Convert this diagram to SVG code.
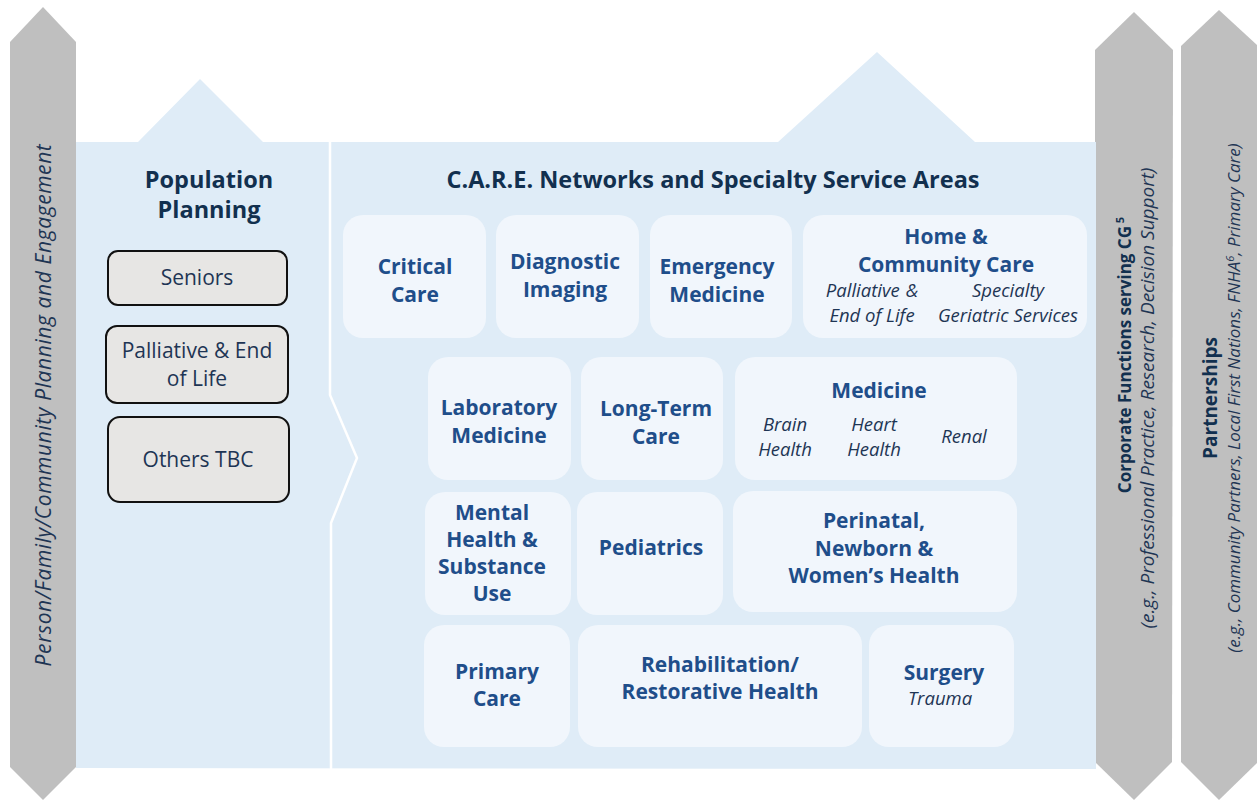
<svg xmlns="http://www.w3.org/2000/svg" width="1257" height="801" viewBox="0 0 1257 801">
  <style>
    .arrow { fill: #BFBFBF; }
    .panel { fill: #DFECF7; }
    .node { fill: #F1F6FC; }
    .pop { fill: #E7E6E4; stroke: #111111; stroke-width: 2; }
    text { font-family: "Open Sans", "Noto Sans", "DejaVu Sans", sans-serif; text-anchor: middle; }
    .title { font-size: 23.5px; font-weight: 700; fill: #12304F; }
    .name { font-size: 21px; font-weight: 700; fill: #1F4E8A; }
    .sub { font-size: 18.5px; font-style: italic; fill: #1E3554; }
    .pop-label { font-size: 21px; fill: #1E3554; }
    .side { font-size: 21px; font-style: italic; fill: #1E3554; letter-spacing: 0.6px; }
    .side-s { font-size: 19px; font-style: italic; fill: #1E3554; }
    .side-b { font-size: 17px; font-weight: 700; fill: #12304F; }
  </style>

  <!-- side arrows -->
  <g id="arrow-person">
    <polygon class="arrow" points="43,7 76,42 76,767 43,800 10,767 10,42"/>
    <text class="side" transform="translate(51,405) rotate(-90)">Person/Family/Community Planning and Engagement</text>
  </g>
  <g id="arrow-corporate">
    <polygon class="arrow" points="1134,12 1173,50 1172,762 1134,800 1095,762 1095,50"/>
    <text class="side-b" transform="translate(1131,355) rotate(-90)">Corporate Functions serving CG<tspan font-size="11" dy="-7"> 5</tspan></text>
    <text class="side-s" transform="translate(1154,398) rotate(-90)">(e.g., Professional Practice, Research, Decision Support)</text>
  </g>
  <g id="arrow-partnerships">
    <polygon class="arrow" points="1219,10 1258,46 1258,762 1219,800 1181,762 1181,46"/>
    <text class="side-b" style="font-size:19px" transform="translate(1217,398) rotate(-90)">Partnerships</text>
    <text class="side-s" style="font-size:17px" transform="translate(1240,398) rotate(-90)">(e.g., Community Partners, Local First Nations, FNHA<tspan font-size="11" dy="-6">6</tspan><tspan dy="6">, Primary Care)</tspan></text>
  </g>

  <!-- house-shaped panels -->
  <g id="panels">
    <polygon class="panel" points="76,142 138,142 200,79 263,142 778,142 877,52 975,142 1096,142 1096,769 76,768"/>
    <polyline points="330,142 330,395 357,458 331,523 331,769" fill="none" stroke="#FFFFFF" stroke-width="2.5"/>
  </g>

  <!-- population planning column -->
  <g id="population-planning">
    <text class="title" x="209" y="188">Population</text>
    <text class="title" x="209" y="218">Planning</text>
  </g>
  <g id="seniors">
    <rect class="pop" x="108" y="251" width="179" height="54" rx="10"/>
    <text class="pop-label" x="197" y="285">Seniors</text>
  </g>
  <g id="palliative">
    <rect class="pop" x="106" y="326" width="182" height="77" rx="11"/>
    <text class="pop-label" x="197" y="358">Palliative &amp; End</text>
    <text class="pop-label" x="197" y="386">of Life</text>
  </g>
  <g id="others">
    <rect class="pop" x="108" y="417" width="181" height="85" rx="12"/>
    <text class="pop-label" x="198" y="467">Others TBC</text>
  </g>

  <!-- networks and specialty service areas -->
  <g id="care-title">
    <text class="title" x="713" y="188">C.A.R.E. Networks and Specialty Service Areas</text>
  </g>

  <g id="critical-care">
    <rect class="node" x="343" y="215" width="143" height="123" rx="20"/>
    <text class="name" x="415" y="274">Critical</text>
    <text class="name" x="415" y="302">Care</text>
  </g>
  <g id="diagnostic-imaging">
    <rect class="node" x="496" y="215" width="143" height="123" rx="20"/>
    <text class="name" x="565" y="269">Diagnostic</text>
    <text class="name" x="565" y="297">Imaging</text>
  </g>
  <g id="emergency-medicine">
    <rect class="node" x="650" y="215" width="142" height="123" rx="20"/>
    <text class="name" x="717" y="274">Emergency</text>
    <text class="name" x="717" y="302">Medicine</text>
  </g>
  <g id="home-community-care">
    <rect class="node" x="803" y="215" width="284" height="123" rx="20"/>
    <text class="name" x="946" y="244">Home &amp;</text>
    <text class="name" x="946" y="272">Community Care</text>
    <text class="sub" x="872" y="297">Palliative<tspan dx="6">&amp;</tspan></text>
    <text class="sub" x="872" y="322">End of Life</text>
    <text class="sub" x="1008" y="297">Specialty</text>
    <text class="sub" x="1008" y="322">Geriatric Services</text>
  </g>

  <g id="laboratory-medicine">
    <rect class="node" x="428" y="357" width="143" height="123" rx="20"/>
    <text class="name" x="499" y="415">Laboratory</text>
    <text class="name" x="499" y="443">Medicine</text>
  </g>
  <g id="long-term-care">
    <rect class="node" x="581" y="357" width="142" height="123" rx="20"/>
    <text class="name" x="656" y="416">Long-Term</text>
    <text class="name" x="656" y="444">Care</text>
  </g>
  <g id="medicine">
    <rect class="node" x="735" y="357" width="282" height="123" rx="20"/>
    <text class="name" x="879" y="398">Medicine</text>
    <text class="sub" x="785" y="431">Brain</text>
    <text class="sub" x="785" y="456">Health</text>
    <text class="sub" x="874" y="431">Heart</text>
    <text class="sub" x="874" y="456">Health</text>
    <text class="sub" x="964" y="443">Renal</text>
  </g>

  <g id="mental-health">
    <rect class="node" x="425" y="492" width="146" height="123" rx="20"/>
    <text class="name" x="492" y="520">Mental</text>
    <text class="name" x="492" y="547">Health &amp;</text>
    <text class="name" x="492" y="574">Substance</text>
    <text class="name" x="492" y="601">Use</text>
  </g>
  <g id="pediatrics">
    <rect class="node" x="577" y="492" width="146" height="123" rx="20"/>
    <text class="name" x="651" y="555">Pediatrics</text>
  </g>
  <g id="perinatal">
    <rect class="node" x="733" y="491" width="284" height="121" rx="20"/>
    <text class="name" x="874" y="528">Perinatal,</text>
    <text class="name" x="874" y="556">Newborn &amp;</text>
    <text class="name" x="874" y="583">Women’s Health</text>
  </g>

  <g id="primary-care">
    <rect class="node" x="424" y="625" width="146" height="122" rx="20"/>
    <text class="name" x="497" y="679">Primary</text>
    <text class="name" x="497" y="706">Care</text>
  </g>
  <g id="rehabilitation">
    <rect class="node" x="578" y="625" width="284" height="122" rx="20"/>
    <text class="name" x="720" y="672">Rehabilitation/</text>
    <text class="name" x="720" y="699">Restorative Health</text>
  </g>
  <g id="surgery">
    <rect class="node" x="869" y="625" width="145" height="122" rx="20"/>
    <text class="name" x="944" y="680">Surgery</text>
    <text class="sub" x="940" y="705">Trauma</text>
  </g>

  <!-- no connectors in this layout -->
  <g id="connectors"/>
</svg>
